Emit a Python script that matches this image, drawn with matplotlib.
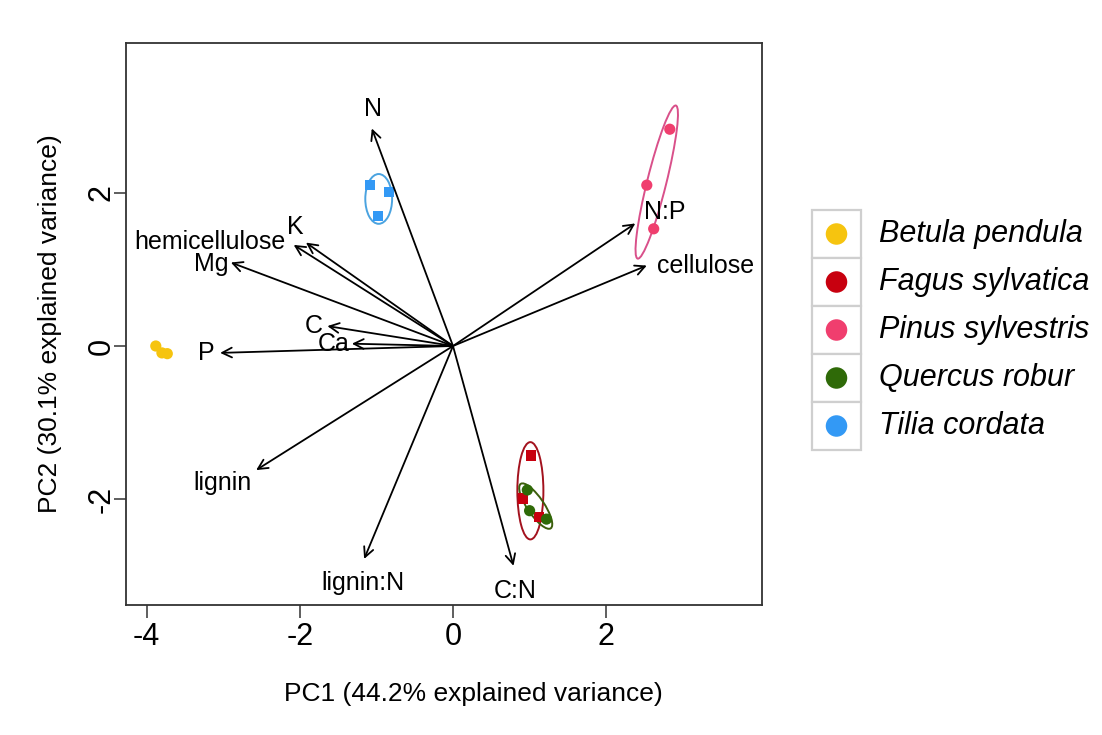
import matplotlib
matplotlib.use("Agg")
import matplotlib.pyplot as plt
from matplotlib.patches import Ellipse, Rectangle

plt.rcParams['font.family'] = ['Liberation Sans', 'DejaVu Sans']
plt.rcParams['axes.unicode_minus'] = False

# PCA scores per species
species = ["Betula pendula", "Fagus sylvatica", "Pinus sylvestris",
           "Quercus robur", "Tilia cordata"]
colors = ["#F6C40F", "#C8000F", "#F03E6E", "#2F6A08", "#3399F5"]
ellipse_colors = [None, "#A3121E", "#D9508A", "#3C5E0C", "#4AA3E0"]
markers = ["o", "s", "o", "o", "s"]

pc1 = {
    "Betula pendula":   [-3.88, -3.80, -3.73],
    "Fagus sylvatica":  [1.02, 0.91, 1.12],
    "Pinus sylvestris": [2.83, 2.53, 2.62],
    "Quercus robur":    [0.97, 1.00, 1.22],
    "Tilia cordata":    [-1.08, -0.84, -0.98],
}
pc2 = {
    "Betula pendula":   [0.00, -0.09, -0.10],
    "Fagus sylvatica":  [-1.43, -1.99, -2.23],
    "Pinus sylvestris": [2.83, 2.10, 1.53],
    "Quercus robur":    [-1.88, -2.15, -2.26],
    "Tilia cordata":    [2.10, 2.01, 1.70],
}

# group ellipses: centre x, centre y, width, height, angle
ell_cx = {"Fagus sylvatica": 1.01, "Pinus sylvestris": 2.66,
          "Quercus robur": 1.08, "Tilia cordata": -0.97}
ell_cy = {"Fagus sylvatica": -1.89, "Pinus sylvestris": 2.14,
          "Quercus robur": -2.09, "Tilia cordata": 1.92}
ell_w = {"Fagus sylvatica": 0.34, "Pinus sylvestris": 2.06,
         "Quercus robur": 0.70, "Tilia cordata": 0.35}
ell_h = {"Fagus sylvatica": 1.27, "Pinus sylvestris": 0.25,
         "Quercus robur": 0.22, "Tilia cordata": 0.65}
ell_ang = {"Fagus sylvatica": 0, "Pinus sylvestris": 76,
           "Quercus robur": -56, "Tilia cordata": 0}

# variable loadings (arrow tips)
variables = ["N", "hemicellulose", "K", "Mg", "C", "Ca", "P", "lignin",
             "lignin:N", "C:N", "N:P", "cellulose"]
load1 = [-1.06, -2.08, -1.92, -2.90, -1.64, -1.32, -3.04, -2.57,
         -1.16, 0.79, 2.38, 2.53]
load2 = [2.84, 1.32, 1.35, 1.09, 0.26, 0.03, -0.09, -1.62,
         -2.78, -2.87, 1.60, 1.05]
# label offsets from the arrow tips, in points
lab_dx = [1, -60, -8, -14, -10, -13, -10, -24, -1, 1, 21, 42]
lab_dy = [14, 2, 11, -1, 0, 0, 0, -9, -17, -18, 8, 0]

fig = plt.figure(figsize=(11.02, 7.35), dpi=100)
ax = fig.add_axes([126 / 1102, 1 - 605 / 735, (762 - 126) / 1102, (605 - 43) / 735])

x0, y0 = 453, 346
ppu = 76.6
ax.set_xlim((126 - x0) / ppu, (762 - x0) / ppu)
ax.set_ylim((y0 - 605) / ppu, (y0 - 43) / ppu)

for sp, col, mk, ecol in zip(species, colors, markers, ellipse_colors):
    if ecol is not None:
        ax.add_patch(Ellipse((ell_cx[sp], ell_cy[sp]), ell_w[sp], ell_h[sp],
                             angle=ell_ang[sp], fill=False, edgecolor=ecol,
                             lw=1.4, zorder=2))
    ax.scatter(pc1[sp], pc2[sp], s=55 if mk == "s" else 65, marker=mk,
               color=col, edgecolors="none", zorder=3)

for name, a, b, dx, dy in zip(variables, load1, load2, lab_dx, lab_dy):
    ax.annotate("", xy=(a, b), xytext=(0, 0),
                arrowprops=dict(arrowstyle="->,head_length=0.7,head_width=0.35",
                                lw=1.3, color="black", shrinkA=0, shrinkB=0),
                zorder=4)
    ax.annotate(name, xy=(a, b), xytext=(dx, dy), textcoords="offset points",
                ha="center", va="center", fontsize=18, zorder=5)

ax.set_xticks([-4, -2, 0, 2])
ax.set_yticks([-2, 0, 2])
ax.tick_params(axis="both", direction="out", length=9, width=1.1,
               labelsize=22, color="#333333")
ax.tick_params(axis="x", pad=3)
ax.tick_params(axis="y", pad=-2)
for lab in ax.get_yticklabels():
    lab.set_rotation(90)
    lab.set_va("center")
for s in ax.spines.values():
    s.set_linewidth(1.3)
    s.set_color("#333333")
ax.set_xlabel("PC1 (44.2% explained variance)", fontsize=19)
ax.xaxis.set_label_coords((473 - 126) / 636, -(682 - 605) / 562)
ax.set_ylabel("PC2 (30.1% explained variance)", fontsize=19)
ax.yaxis.set_label_coords(-(126 - 62) / 636, 0.5)

# legend drawn in pixel coordinates
lg = fig.add_axes([0, 0, 1, 1], facecolor="none")
lg.set_xlim(0, 1102)
lg.set_ylim(735, 0)
lg.axis("off")
top, kh = 210, 48
for i, (sp, col) in enumerate(zip(species, colors)):
    yk = top + i * kh
    lg.add_patch(Rectangle((812, yk), 49, kh, fill=True, facecolor="white",
                           edgecolor="#CFCFCF", lw=1.6))
    lg.scatter([836.5], [yk + kh / 2], s=240, color=col, edgecolors="none")
    lg.text(879, yk + kh / 2, sp, fontsize=22, style="italic",
            ha="left", va="center")

fig.savefig("out.png", dpi=100, facecolor="white")
